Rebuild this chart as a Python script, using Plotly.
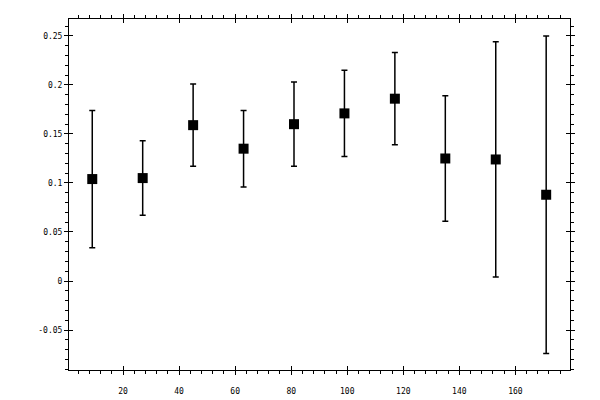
import plotly.graph_objects as go

# measurement points with symmetric error bars
x_vals = [9, 27, 45, 63, 81, 99, 117, 135, 153, 171]
y_vals = [0.104, 0.105, 0.159, 0.135, 0.160, 0.171, 0.186, 0.125, 0.124, 0.088]
y_err = [0.070, 0.038, 0.042, 0.039, 0.043, 0.044, 0.047, 0.064, 0.120, 0.162]

x_ticks = [20, 40, 60, 80, 100, 120, 140, 160]
y_ticks = [-0.05, 0, 0.05, 0.1, 0.15, 0.2, 0.25]
y_tick_text = ['-0.05', '0', '0.05', '0.1', '0.15', '0.2', '0.25']

x_range = [0.7, 179.5]
y_range = [-0.0908, 0.2673]

tick_font = dict(family='DejaVu Sans Mono', size=8, color='black')

fig = go.Figure()
fig.add_trace(go.Scatter(
    x=x_vals, y=y_vals, mode='markers',
    marker=dict(symbol='square', size=10, color='black'),
    error_y=dict(type='data', array=y_err, visible=True,
                 color='black', thickness=1.5, width=3),
    showlegend=False))

# invisible trace so the overlay axes get drawn (inward half of major ticks)
fig.add_trace(go.Scatter(x=x_range, y=y_range, mode='markers',
                         marker=dict(opacity=0), xaxis='x2', yaxis='y2',
                         showlegend=False, hoverinfo='skip'))

# page body has an 8px margin, so the figure is offset by it
fig.update_layout(
    width=592, height=392,
    margin=dict(l=61, r=30, t=11, b=30),
    paper_bgcolor='white', plot_bgcolor='white',
    xaxis=dict(range=x_range, tickvals=x_ticks, ticks='outside', ticklen=4,
               tickwidth=1, tickcolor='black', showgrid=False, zeroline=False,
               showline=True, linecolor='black', linewidth=1, mirror='allticks',
               tickfont=tick_font, ticklabelstandoff=9, automargin=False,
               minor=dict(dtick=4, tick0=0, ticks='outside', ticklen=3,
                          tickcolor='black', showgrid=False)),
    yaxis=dict(range=y_range, tickvals=y_ticks, ticktext=y_tick_text,
               ticks='outside', ticklen=4, tickwidth=1, tickcolor='black',
               showgrid=False, zeroline=False, showline=True,
               linecolor='black', linewidth=1, mirror='allticks',
               tickfont=tick_font, automargin=False,
               minor=dict(dtick=0.01, tick0=0, ticks='outside', ticklen=3,
                          tickcolor='black', showgrid=False)),
    xaxis2=dict(range=x_range, overlaying='x', tickvals=x_ticks,
                ticks='inside', ticklen=4, tickcolor='black',
                showticklabels=False, showgrid=False, zeroline=False,
                showline=False, mirror='allticks', automargin=False),
    yaxis2=dict(range=y_range, overlaying='y', tickvals=y_ticks,
                ticks='inside', ticklen=4, tickcolor='black',
                showticklabels=False, showgrid=False, zeroline=False,
                showline=False, mirror='allticks', automargin=False),
)

fig.write_html("out.html")
